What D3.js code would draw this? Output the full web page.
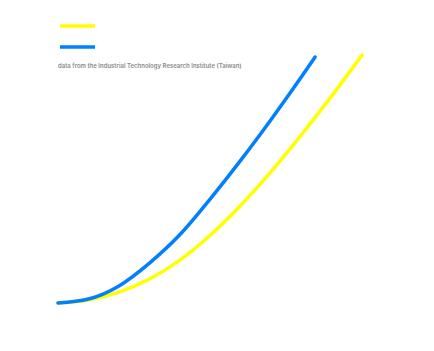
<!DOCTYPE html>
<html>
<head>
<meta charset="utf-8">
<script src="https://cdn.jsdelivr.net/npm/d3@7"></script>
<style>
  body { margin: 0; background: #fff; }
  svg { display: block; }
</style>
</head>
<body>
<div id="chart"></div>
<script>
// values (arbitrary units, no axes shown)
const blueX = [0, 10, 20, 30, 40, 50, 60, 70, 80, 84.3];
const blueY = [0, 1.6, 6.9, 16.1, 27.6, 42.1, 57.7, 74.2, 91.5, 99.2];
const yellowX = [0, 10, 20, 30, 40, 50, 60, 70, 80, 90, 99.7];
const yellowY = [0, 1.2, 4.4, 9.7, 17.3, 27.4, 39.5, 53.2, 68.1, 83.9, 100];
const seriesNames = ["yellow", "blue"];
const seriesColors = ["#ffff00", "#0080ff"];
const caption = "data from the Industrial Technology Research Institute (Taiwan)";

const W = 434, H = 351;
const margin = {top: 55, right: 72, bottom: 48, left: 58};

const svg = d3.select("#chart")
    .append("svg")
    .attr("width", W)
    .attr("height", H);

const x = d3.scaleLinear()
    .domain([0, 100])
    .range([margin.left, W - margin.right + 1]);

const y = d3.scaleLinear()
    .domain([0, 100])
    .range([H - margin.bottom, margin.top]);

const line = d3.line()
    .x(d => x(d[0]))
    .y(d => y(d[1]))
    .curve(d3.curveMonotoneX);

const series = [
    {name: "yellow", pts: d3.zip(yellowX, yellowY)},
    {name: "blue", pts: d3.zip(blueX, blueY)}
];
const color = d3.scaleOrdinal().domain(seriesNames).range(seriesColors);

svg.selectAll("path.series")
    .data(series)
    .join("path")
    .attr("class", "series")
    .attr("d", d => line(d.pts))
    .attr("fill", "none")
    .attr("stroke", d => color(d.name))
    .attr("stroke-width", 3.5)
    .attr("stroke-linecap", "round")
    .attr("stroke-linejoin", "round");

// legend swatches (no labels in the original)
svg.selectAll("line.legend")
    .data(seriesNames)
    .join("line")
    .attr("class", "legend")
    .attr("x1", 60)
    .attr("x2", 95)
    .attr("y1", (d, i) => 26 + i * 21)
    .attr("y2", (d, i) => 26 + i * 21)
    .attr("stroke", d => color(d))
    .attr("stroke-width", 3.5);

svg.append("text")
    .attr("x", 58)
    .attr("y", 68)
    .attr("fill", "#8a8a8a")
    .style("font-family", "Inter, 'DejaVu Sans', sans-serif")
    .style("font-size", "6px")
    .style("font-weight", "600")
    .text(caption);
</script>
</body>
</html>
